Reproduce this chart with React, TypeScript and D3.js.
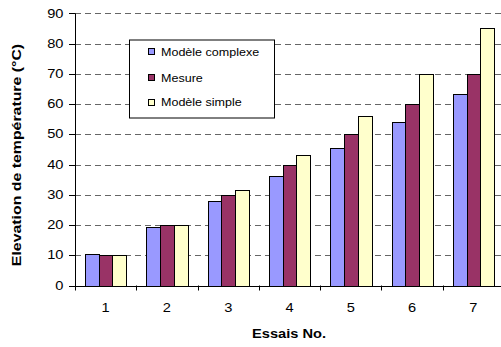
import React from "react";
import * as d3 from "d3";

const categories = ["1", "2", "3", "4", "5", "6", "7"];
const seriesNames = ["Modèle complexe", "Mesure", "Modèle simple"];
const complexe = [10.3, 19.2, 28.0, 36.3, 45.4, 54.0, 63.2];
const mesure = [10, 20, 30, 40, 50, 60, 70];
const simple = [10, 20, 31.5, 43.0, 56.0, 70, 85];
const yTicks = [0, 10, 20, 30, 40, 50, 60, 70, 80, 90];
const colors = ["#9999FF", "#993366", "#FFFFCC"];

const W = 501;
const H = 347;
const left = 75;
const right = 504;
const top = 13.3;
const bottom = 285.5;
const font = "'Liberation Sans', Arial, sans-serif";

function SText(props: {
  x: number;
  y: number;
  sx: number;
  size: number;
  anchor?: string;
  bold?: boolean;
  rotate?: number;
  children: React.ReactNode;
}) {
  const { x, y, sx, size, anchor = "start", bold = false, rotate = 0, children } = props;
  return (
    <g transform={`translate(${x},${y}) rotate(${rotate}) scale(${sx},1)`}>
      <text
        x={0}
        y={0}
        dy="0.35em"
        textAnchor={anchor}
        fontSize={size}
        fontWeight={bold ? "bold" : "normal"}
        fill="#000"
      >
        {children}
      </text>
    </g>
  );
}

export default function App() {
  const values = [complexe, mesure, simple];
  const x0 = d3.scaleBand<string>().domain(categories).range([left, right]).padding(0);
  const x1 = d3
    .scaleBand<number>()
    .domain([0, 1, 2])
    .range([0, x0.bandwidth()])
    .paddingInner(0)
    .paddingOuter(0.74);
  const y = d3.scaleLinear().domain([0, 90]).range([bottom, top]);

  const legendX = 129;
  const legendY = 39.5;
  const legendW = 145;
  const legendH = 78;
  const rowYs = [51.7, 77.7, 102.3];

  return (
    <svg
      width={W}
      height={H}
      style={{ position: "absolute", left: 0, top: 0, background: "#fff" }}
      fontFamily={font}
    >
      <rect x={0} y={0} width={W} height={H} fill="#fff" />
      {yTicks
        .filter((t) => t > 0)
        .map((t) => (
          <line
            key={"g" + t}
            x1={left}
            x2={right}
            y1={Math.round(y(t)) + 0.5}
            y2={Math.round(y(t)) + 0.5}
            stroke="#666"
            strokeWidth={1}
            strokeDasharray="6,4"
          />
        ))}
      {categories.map((c, i) => (
        <g key={c}>
          {values.map((vals, s) => {
            const bx = (x0(c) as number) + (x1(s) as number);
            const bw = x1.bandwidth();
            return (
              <rect
                key={s}
                x={Math.round(bx) + 0.5}
                y={Math.round(y(vals[i])) + 0.5}
                width={Math.round(bw)}
                height={Math.round(y(0)) - Math.round(y(vals[i]))}
                fill={colors[s]}
                stroke="#000"
                strokeWidth={1}
              />
            );
          })}
        </g>
      ))}
      <line x1={left + 0.5} x2={left + 0.5} y1={top} y2={bottom + 0.5} stroke="#000" />
      {yTicks.map((t) => (
        <g key={"y" + t}>
          <line
            x1={left - 6}
            x2={left}
            y1={Math.round(y(t)) + 0.5}
            y2={Math.round(y(t)) + 0.5}
            stroke="#000"
          />
          <SText x={63.5} y={y(t)} sx={1.22} size={12} anchor="end">
            {t}
          </SText>
        </g>
      ))}
      <line
        x1={left}
        x2={right}
        y1={Math.round(bottom) + 0.5}
        y2={Math.round(bottom) + 0.5}
        stroke="#000"
      />
      {categories.map((c) => (
        <line
          key={"xt" + c}
          x1={Math.round(x0(c) as number) + 0.5}
          x2={Math.round(x0(c) as number) + 0.5}
          y1={bottom}
          y2={bottom + 5}
          stroke="#000"
        />
      ))}
      {categories.map((c) => (
        <SText
          key={"xl" + c}
          x={(x0(c) as number) + x0.bandwidth() / 2}
          y={308}
          sx={1.22}
          size={12}
          anchor="middle"
        >
          {c}
        </SText>
      ))}
      <SText x={289} y={334} sx={1.22} size={12} anchor="middle" bold>
        Essais No.
      </SText>
      <SText x={16.5} y={155} sx={1.22} size={13} anchor="middle" bold rotate={-90}>
        Elevation de température (°C)
      </SText>
      <rect
        x={legendX + 0.5}
        y={legendY + 0.5}
        width={legendW}
        height={legendH}
        fill="#fff"
        stroke="#000"
      />
      {seriesNames.map((name, s) => (
        <g key={name}>
          <rect
            x={148.5}
            y={Math.round(rowYs[s] - 3.5) + 0.5}
            width={6}
            height={6}
            fill={colors[s]}
            stroke="#000"
          />
          <SText x={161} y={rowYs[s]} sx={1.14} size={11}>
            {name}
          </SText>
        </g>
      ))}
    </svg>
  );
}
